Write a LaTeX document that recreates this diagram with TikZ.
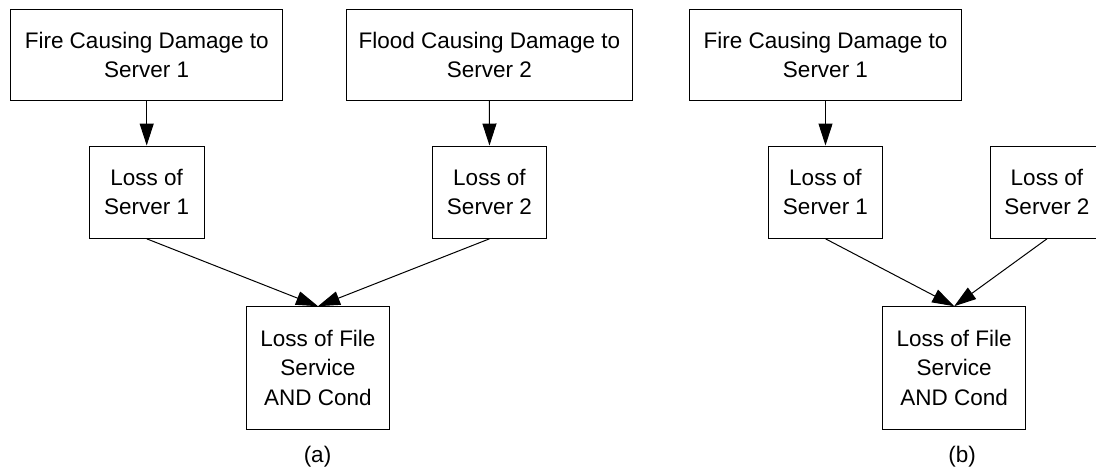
\documentclass[tikz,border=0pt]{standalone}
\usepackage{fontspec}
\setmainfont{Liberation Sans}
\usetikzlibrary{arrows.meta}
\begin{document}
\begin{tikzpicture}[x=1pt,y=-1pt,
  box/.style={draw=black, line width=1pt, rectangle, inner sep=0pt, align=center,
    font=\fontsize{22.5}{29.5}\selectfont},
  arr/.style={draw=black, line width=1pt, -{Triangle[length=22pt,width=14pt]}},
  sublabel/.style={inner sep=0pt, font=\fontsize{22.5}{27}\selectfont}]
\clip (0,0) rectangle (1096,472);
% (a)
\node[box, minimum width=272pt, minimum height=91.7pt] (fireA) at (146.7,54.85) {Fire Causing Damage to\\Server 1};
\node[box, minimum width=286.7pt, minimum height=91.7pt] (flood) at (489.4,54.85) {Flood Causing Damage to\\Server 2};
\node[box, minimum width=114.7pt, minimum height=92.3pt] (lossA1) at (146.7,192.15) {Loss of\\Server 1};
\node[box, minimum width=114.4pt, minimum height=92.3pt] (lossA2) at (489.5,192.15) {Loss of\\Server 2};
\node[box, minimum width=142.6pt, minimum height=122.3pt] (fileA) at (318,367.85) {Loss of File\\Service\\AND Cond};
\node[sublabel] (capA) at (317.5,457) {(a)};
\draw[arr] (fireA) -- (lossA1);
\draw[arr] (flood) -- (lossA2);
\draw[arr] (lossA1.south) -- (fileA.north);
\draw[arr] (lossA2.south) -- (fileA.north);
% (b)
\node[box, minimum width=272.4pt, minimum height=91.7pt] (fireB) at (825.5,54.85) {Fire Causing Damage to\\Server 1};
\node[box, minimum width=114.4pt, minimum height=92.3pt] (lossB1) at (825.5,192.15) {Loss of\\Server 1};
\node[box, minimum width=114pt, minimum height=92.3pt] (lossB2) at (1047,192.15) {Loss of\\Server 2};
\node[box, minimum width=143pt, minimum height=122.3pt] (fileB) at (954.2,367.85) {Loss of File\\Service\\AND Cond};
\node[sublabel] (capB) at (962,457) {(b)};
\draw[arr] (fireB) -- (lossB1);
\draw[arr] (lossB1.south) -- (fileB.north);
\draw[arr] (lossB2.south) -- (fileB.north);
\end{tikzpicture}
\end{document}
